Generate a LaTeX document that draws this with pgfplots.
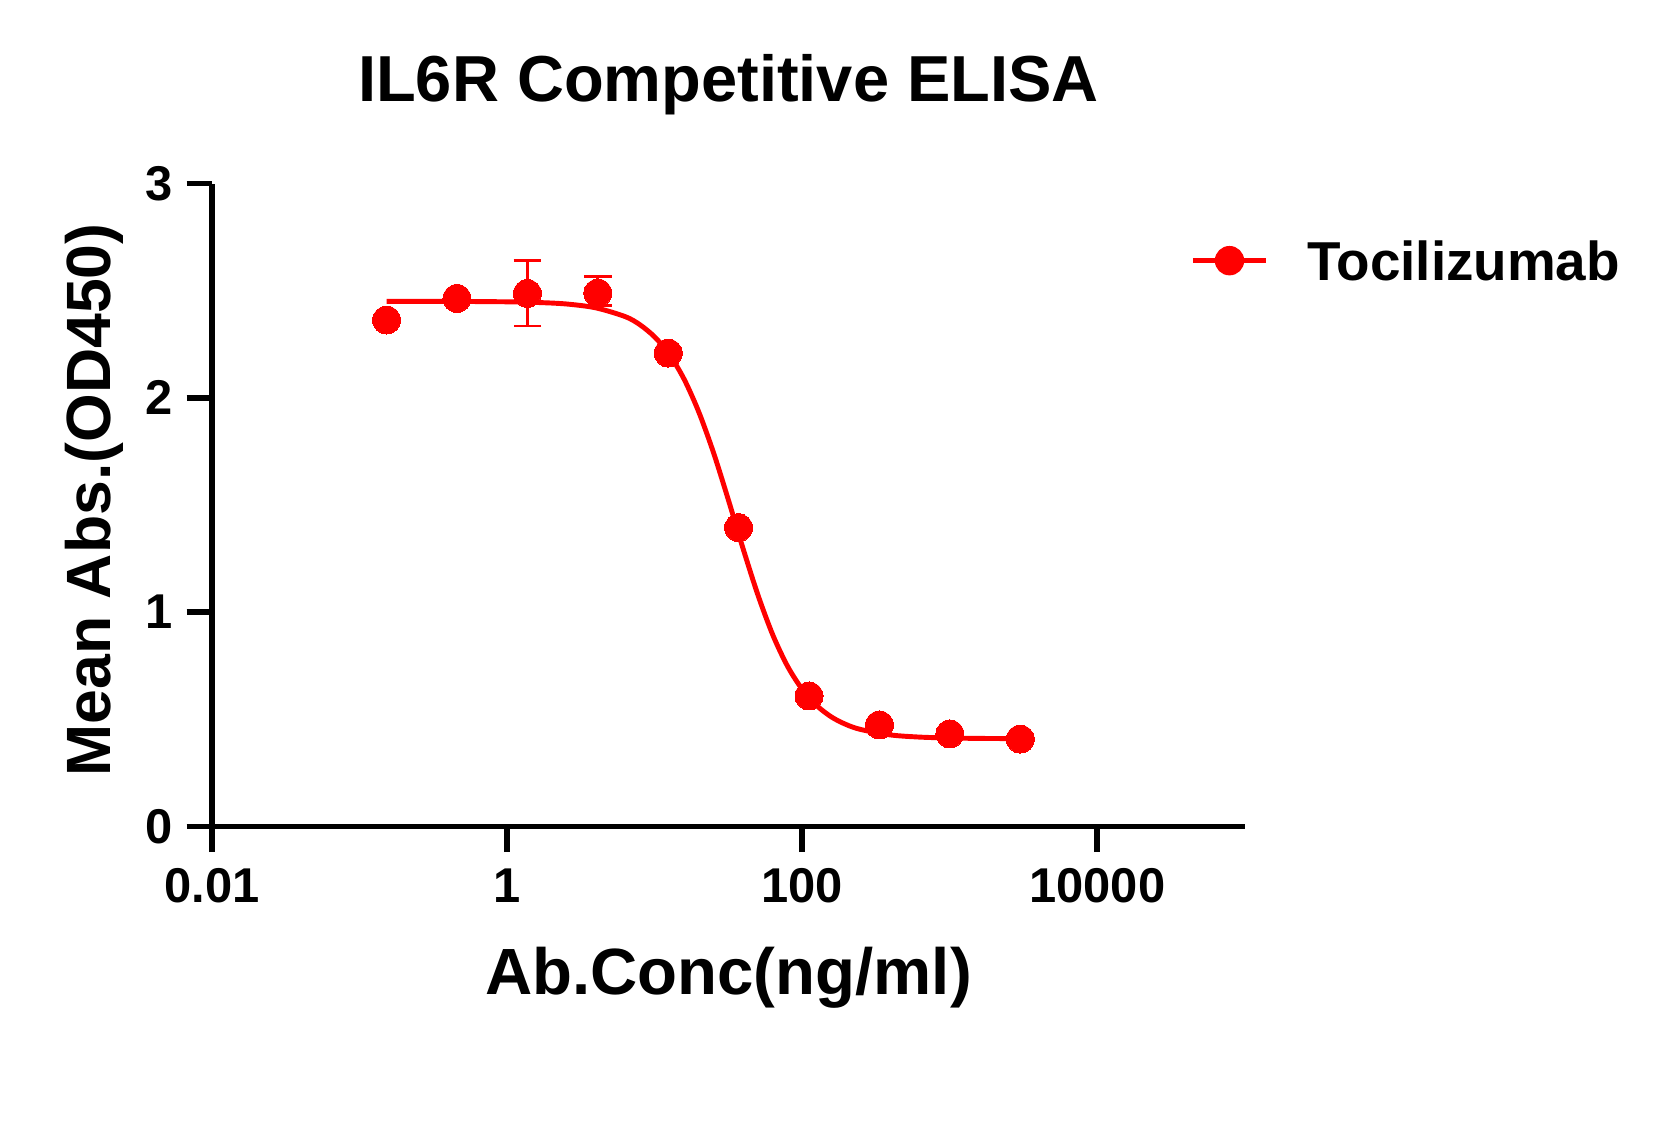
\documentclass[border=0pt]{standalone}
\usepackage{fontspec}
\setmainfont{Liberation Sans}
\usepackage{pgfplots}
\pgfplotsset{compat=1.18}
\definecolor{gpred}{RGB}{255,0,0}
\begin{document}
\begin{tikzpicture}
\path[use as bounding box] (-21.2mm,-29.85mm) rectangle (146.5mm,82.65mm);
\begin{axis}[
  at={(0,0)}, anchor=south west,
  scale only axis, width=103.3mm, height=64.3mm,
  xmode=log, xmin=0.01, xmax=100000, ymin=0, ymax=3,
  axis lines=left,
  axis line style={-, line width=1.7pt, black},
  every outer x axis line/.append style={-},
  every outer y axis line/.append style={-},
  tick align=outside, major tick length=2.55mm,
  tick style={line width=1.7pt, black},
  xtick={0.01,1,100,10000}, xticklabels={0.01,1,100,10000},
  minor xtick={}, 
  ytick={0,1,2,3}, yticklabels={0,1,2,3},
  ticklabel style={font=\fontsize{13.9}{16}\selectfont\bfseries},
  xticklabel style={anchor=north, inner sep=0pt, yshift=-1.6mm},
  yticklabel style={anchor=east, inner sep=0pt, xshift=-1.3mm},
  every axis title shift=0pt,
  title={IL6R Competitive ELISA},
  title style={at={(axis description cs:0.5,1.1277)}, anchor=base, font=\fontsize{18.5}{22}\selectfont\bfseries},
  xlabel={Ab.Conc(ng/ml)},
  xlabel style={at={(axis description cs:0.5,-0.261)}, anchor=base, font=\fontsize{18.6}{22}\selectfont\bfseries},
  ylabel={Mean Abs.(OD450)},
  ylabel style={at={(axis description cs:-0.0985,0.508)}, anchor=base, font=\fontsize{17.8}{22}\selectfont\bfseries},
  legend style={at={(axis description cs:0.9466,0.880)}, anchor=west, draw=none, fill=none,
    inner sep=0pt, nodes={inner sep=0pt, text depth=0pt},
    font=\fontsize{15.6}{18}\selectfont\bfseries,
    /tikz/every odd column/.append style={column sep=3.87mm}},
  clip=false,
]
% fitted curve
\addplot[gpred, line width=1.4pt, smooth, forget plot] coordinates {
 (0.1524,2.450) (0.3981,2.450) (1,2.448) (1.585,2.445) (2.512,2.438)
 (3.981,2.420) (6.310,2.379) (7.943,2.341) (10,2.284) (12.59,2.202)
 (15.85,2.086) (19.95,1.932) (25.12,1.741) (31.62,1.522) (39.81,1.294)
 (50.12,1.079) (63.10,0.894) (79.43,0.748) (100,0.640) (125.9,0.563)
 (158.5,0.510) (199.5,0.475) (251.2,0.452) (398.1,0.427) (631.0,0.417)
 (1000,0.413) (1585,0.411) (3000,0.410)
};
% data points with error bars
\addplot[gpred, only marks, mark=*, mark size=1.4mm,
  mark options={fill=gpred, draw=gpred, line width=0pt},
  legend image code/.code={
    \draw[gpred, line width=1.4pt] (0mm,0mm) -- (7.3mm,0mm);
    \fill[gpred] (3.65mm,0mm) circle (1.4mm);},
  error bars/.cd, y dir=both, y explicit,
  error bar style={line width=0.95pt, gpred},
  error mark options={rotate=90, mark size=1.37mm, line width=0.8pt, gpred},
  ] coordinates {
 (0.1524,2.363)
 (0.4572,2.464)
 (1.372,2.487) +- (0,0.152)
 (4.115,2.489) += (0,0.076) -= (0,0.06)
 (12.35,2.209)
 (37.04,1.394)
 (111.1,0.609)
 (333.3,0.474)
 (1000,0.432)
 (3000,0.408)
};
\addlegendentry{Tocilizumab}
\end{axis}
\end{tikzpicture}
\end{document}
